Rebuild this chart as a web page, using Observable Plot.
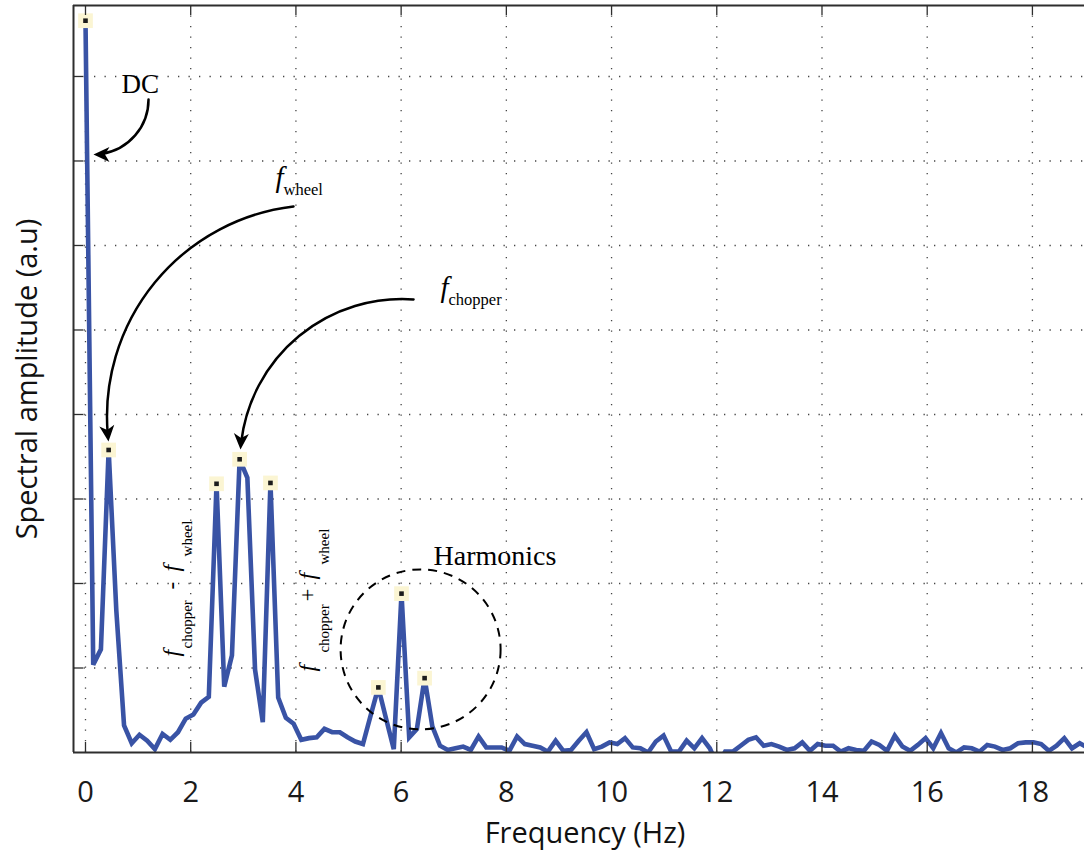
<!DOCTYPE html>
<html><head><meta charset="utf-8">
<script src="https://cdn.jsdelivr.net/npm/d3@7"></script>
<script src="https://cdn.jsdelivr.net/npm/@observablehq/plot@0.6"></script>
<style>
html,body{margin:0;padding:0;background:#fff;}
#chart{width:1084px;height:856px;overflow:hidden;}
</style></head><body><div id="chart"></div>
<script>
// Frequency bins (Hz)
const freq = [0, 0.147, 0.293, 0.440, 0.586, 0.733, 0.879, 1.026, 1.172, 1.319, 1.465, 1.612, 1.758, 1.905, 2.051, 2.198, 2.344, 2.491, 2.637, 2.784, 2.930, 3.077, 3.223, 3.370, 3.516, 3.663, 3.809, 3.956, 4.102, 4.249, 4.395, 4.542, 4.688, 4.835, 4.981, 5.128, 5.274, 5.421, 5.567, 5.714, 5.860, 6.007, 6.153, 6.300, 6.446, 6.593, 6.739, 6.886, 7.032, 7.179, 7.325, 7.472, 7.618, 7.765, 7.911, 8.058, 8.204, 8.351, 8.497, 8.644, 8.790, 8.937, 9.083, 9.230, 9.376, 9.523, 9.669, 9.816, 9.962, 10.109, 10.255, 10.402, 10.548, 10.695, 10.841, 10.988, 11.134, 11.281, 11.427, 11.574, 11.720, 11.867, 12.013, 12.160, 12.306, 12.453, 12.599, 12.746, 12.892, 13.039, 13.185, 13.332, 13.478, 13.625, 13.771, 13.918, 14.064, 14.211, 14.357, 14.504, 14.650, 14.797, 14.943, 15.090, 15.236, 15.383, 15.529, 15.676, 15.822, 15.969, 16.115, 16.262, 16.408, 16.555, 16.701, 16.848, 16.994, 17.141, 17.287, 17.434, 17.580, 17.727, 17.873, 18.020, 18.166, 18.313, 18.459, 18.606, 18.752, 18.899, 19.045];
// Spectral amplitude (a.u)
const amplitude = [8.66, 1.04, 1.22, 3.58, 1.68, 0.32, 0.11, 0.21, 0.14, 0.04, 0.22, 0.15, 0.24, 0.40, 0.45, 0.59, 0.66, 3.18, 0.78, 1.15, 3.47, 3.25, 0.98, 0.36, 3.19, 0.65, 0.41, 0.34, 0.15, 0.17, 0.18, 0.28, 0.24, 0.24, 0.18, 0.13, 0.10, 0.44, 0.77, 0.40, 0.04, 1.88, 0.18, 0.28, 0.88, 0.31, 0.08, 0.03, 0.05, 0.07, 0.03, 0.19, 0.06, 0.06, 0.06, 0.02, 0.19, 0.10, 0.08, 0.06, 0.01, 0.14, 0.02, 0.03, 0.14, 0.24, 0.04, 0.07, 0.12, 0.10, 0.17, 0.06, 0.05, 0.00, 0.13, 0.20, 0.01, 0.01, 0.14, 0.05, 0.17, 0.05, -0.15, 0.01, 0.01, 0.08, 0.15, 0.18, 0.08, 0.10, 0.07, 0.03, 0.05, 0.12, 0.02, 0.10, 0.08, 0.08, 0.01, 0.05, 0.03, 0.02, 0.13, 0.09, 0.02, 0.20, 0.07, 0.02, 0.09, 0.17, 0.05, 0.23, 0.05, 0.00, 0.06, 0.05, 0.01, 0.09, 0.07, 0.03, 0.05, 0.11, 0.12, 0.12, 0.10, 0.02, 0.08, 0.17, 0.05, 0.11, 0.06];
// Marked peaks (indices into the arrays above)
const peakIndex = [0, 3, 17, 20, 24, 38, 41, 44];

const xTicks = [0, 2, 4, 6, 8, 10, 12, 14, 16, 18];
const yTicks = [1, 2, 3, 4, 5, 6, 7, 8];
const xLabel = "Frequency (Hz)";
const yLabel = "Spectral amplitude (a.u)";
const xDomain = [-0.228, 18.99];
const yDomain = [0, 8.84];

// Annotations (in data units)
const uprightNotes = [
  {x: 0.684, y: 7.799, text: "DC", size: 27, rot: 0},
  {x: 6.616, y: 2.213, text: "Harmonics", size: 28, rot: 0},
  {x: 3.764, y: 6.592, text: "wheel", size: 16.5, rot: 0},
  {x: 6.901, y: 5.290, text: "chopper", size: 16.5, rot: 0},
  {x: 2.034, y: 1.231, text: "chopper", size: 15, rot: -90},
  {x: 1.768, y: 1.929, text: "-", size: 23, rot: -90},
  {x: 2.034, y: 2.320, text: "wheel", size: 15, rot: -90},
  {x: 4.620, y: 1.183, text: "chopper", size: 15, rot: -90},
  {x: 4.354, y: 1.787, text: "+", size: 23, rot: -90},
  {x: 4.620, y: 2.225, text: "wheel", size: 15, rot: -90}
];
const italicNotes = [
  {x: 3.612, y: 6.698, text: "f", size: 29, rot: 0},
  {x: 6.749, y: 5.385, text: "f", size: 29, rot: 0},
  {x: 1.768, y: 1.136, text: "f", size: 24, rot: -90},
  {x: 1.768, y: 2.142, text: "f", size: 24, rot: -90},
  {x: 4.354, y: 0.959, text: "f", size: 24, rot: -90},
  {x: 4.354, y: 2.047, text: "f", size: 24, rot: -90}
];
const arrowDC = [{x1: 1.198, y1: 7.728, x2: 0.152, y2: 7.077, heading: 270}];
const arrowsPeaks = [
  {x1: 3.954, y1: 6.462, x2: 0.437, y2: 3.68, heading: 174},
  {x1: 6.236, y1: 5.361, x2: 2.947, y2: 3.586, heading: 183}
];
const harmonicsCircle = [{x: 6.37, y: 1.22}];

const spectrum = freq.map((f, i) => ({f, a: amplitude[i]}));
const peaks = peakIndex.map(i => spectrum[i]);

const serif = "'Liberation Serif', 'Times New Roman', serif";
const sans = "'Open Sans', sans-serif";
const axisColor = "#2e2e2e";

// filled, notched arrow head pointing up with its tip at the origin
const arrowHead = {
  draw(context) {
    context.moveTo(0, 0);
    context.lineTo(7.5, 16);
    context.lineTo(0, 11.5);
    context.lineTo(-7.5, 16);
    context.closePath();
  }
};

const chart = Plot.plot({
  width: 1084,
  height: 856,
  marginLeft: 73,
  marginRight: 0,
  marginTop: 5,
  marginBottom: 104,
  style: {fontFamily: sans, background: "white", overflow: "visible"},
  x: {domain: xDomain, axis: null},
  y: {domain: yDomain, axis: null},
  marks: [
    Plot.gridX(xTicks, {stroke: "#444", strokeOpacity: 1, strokeWidth: 1.3, strokeDasharray: "1.3,9.2"}),
    Plot.gridY(yTicks, {stroke: "#444", strokeOpacity: 1, strokeWidth: 1.3, strokeDasharray: "1.3,9.2"}),
    Plot.line(spectrum, {x: "f", y: "a", stroke: "#3953a5", strokeWidth: 4.6, strokeLinejoin: "miter", strokeMiterlimit: 3, clip: true}),
    Plot.dot(harmonicsCircle, {x: "x", y: "y", r: 80, fill: "none", stroke: "black", strokeWidth: 2, strokeDasharray: "9,7"}),
    Plot.dot(peaks, {x: "f", y: "a", symbol: "square", r: 8.3, fill: "#fbf5d3", stroke: "none"}),
    Plot.dot(peaks, {x: "f", y: "a", symbol: "square", r: 2.6, fill: "#1b1b1b", stroke: "none"}),
    Plot.arrow(arrowDC, {x1: "x1", y1: "y1", x2: "x2", y2: "y2", bend: 45, stroke: "black", strokeWidth: 2.5, headLength: 0, insetEnd: 8}),
    Plot.arrow(arrowsPeaks, {x1: "x1", y1: "y1", x2: "x2", y2: "y2", bend: -45, stroke: "black", strokeWidth: 2.5, headLength: 0, insetEnd: 8}),
    Plot.dot([...arrowDC, ...arrowsPeaks], {x: "x2", y: "y2", symbol: arrowHead, rotate: "heading", fill: "black", stroke: "none", r: 5}),
    Plot.text(uprightNotes, {x: "x", y: "y", text: "text", fontSize: "size", rotate: "rot", textAnchor: "start", lineAnchor: "bottom", fontFamily: serif, fill: "black"}),
    Plot.text(italicNotes, {x: "x", y: "y", text: "text", fontSize: "size", rotate: "rot", textAnchor: "start", lineAnchor: "bottom", fontFamily: serif, fontStyle: "italic", fill: "black"}),
    // frame
    Plot.ruleY([yDomain[0]], {stroke: axisColor, strokeWidth: 2}),
    Plot.ruleY([yDomain[1]], {stroke: axisColor, strokeWidth: 2}),
    Plot.ruleX([xDomain[0]], {stroke: axisColor, strokeWidth: 2}),
    // inward ticks
    Plot.tickX(xTicks, {x: d => d, stroke: axisColor, strokeWidth: 1.3, insetTop: 737}),
    Plot.tickX(xTicks, {x: d => d, stroke: axisColor, strokeWidth: 1.3, insetBottom: 737}),
    Plot.tickY(yTicks, {y: d => d, stroke: axisColor, strokeWidth: 1.3, insetRight: 1001}),
    // tick labels
    Plot.text(xTicks, {x: d => d, text: d => String(d), frameAnchor: "bottom", dy: 49, lineAnchor: "bottom", fontSize: 29, fontFamily: sans, fill: "#1a1a1a"}),
    // axis labels
    Plot.text([xLabel], {text: d => d, frameAnchor: "bottom", dx: 6, dy: 90, lineAnchor: "bottom", fontSize: 29, fontFamily: sans, fill: "#111"}),
    Plot.text([yLabel], {text: d => d, frameAnchor: "left", dx: -37, rotate: -90, textAnchor: "middle", lineAnchor: "bottom", fontSize: 29, fontFamily: sans, fill: "#111"})
  ]
});
document.getElementById("chart").appendChild(chart);
</script>
</body></html>
